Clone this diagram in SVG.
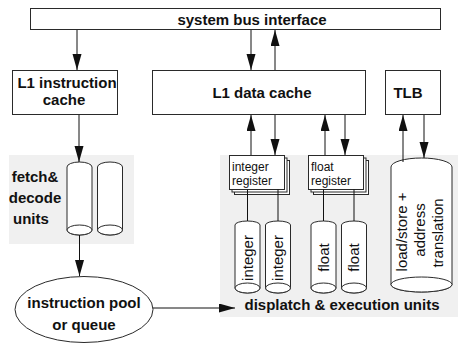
<svg xmlns="http://www.w3.org/2000/svg" width="458" height="344" viewBox="0 0 458 344">
  <defs>
    <style>
      .box { fill: #ffffff; stroke: #2a2a2a; stroke-width: 1; }
      .area { fill: #f0f0f0; stroke: none; }
      .cyl { fill: #ffffff; stroke: #2a2a2a; stroke-width: 1; }
      .wire { fill: none; stroke: #111111; stroke-width: 1; }
      .arrow { fill: none; stroke: #111111; stroke-width: 1; marker-end: url(#head); }
      .bold { font-family: "Liberation Sans", Arial, Helvetica, sans-serif; font-weight: bold; font-size: 15px; fill: #111111; }
      .reg { font-family: "Liberation Sans", Arial, Helvetica, sans-serif; font-size: 12px; fill: #111111; }
      .unit { font-family: "Liberation Sans", Arial, Helvetica, sans-serif; font-size: 15px; fill: #111111; }
    </style>
    <marker id="head" markerUnits="userSpaceOnUse" markerWidth="16" markerHeight="10" refX="16" refY="4.5" orient="auto">
      <path d="M0,0 L16,4.5 L0,9 z" fill="#111111"/>
    </marker>
  </defs>

  <rect width="458" height="344" fill="#ffffff"/>

  <!-- shaded unit areas -->
  <g id="fetch-area">
    <rect class="area" x="9" y="155" width="125" height="89"/>
  </g>
  <g id="exec-area">
    <rect class="area" x="220" y="155" width="238" height="162"/>
  </g>

  <!-- system bus -->
  <g id="system-bus">
    <rect class="box" x="30.5" y="8.5" width="410" height="21"/>
    <text class="bold" x="252" y="25" text-anchor="middle" font-size="14.3">system bus interface</text>
  </g>

  <!-- L1 instruction cache -->
  <g id="l1-instruction-cache">
    <rect class="box" x="12.5" y="70.5" width="105" height="44"/>
    <text class="bold" x="67" y="88" text-anchor="middle">L1 instruction</text>
    <text class="bold" x="64" y="105" text-anchor="middle">cache</text>
  </g>

  <!-- L1 data cache -->
  <g id="l1-data-cache">
    <rect class="box" x="152.5" y="70.5" width="213" height="44"/>
    <text class="bold" x="262" y="97.5" text-anchor="middle">L1 data cache</text>
  </g>

  <!-- TLB -->
  <g id="tlb">
    <rect class="box" x="385.5" y="70.5" width="55" height="44"/>
    <text class="bold" x="408" y="97.5" text-anchor="middle">TLB</text>
  </g>

  <!-- fetch & decode units -->
  <g id="fetch-decode">
    <text class="bold" x="35" y="182" text-anchor="middle">fetch&amp;</text>
    <text class="bold" x="35" y="203" text-anchor="middle">decode</text>
    <text class="bold" x="13" y="224">units</text>
    <path class="cyl" d="M67,167 A12.5,5 0 0 1 92,167 L92,230 A12.5,5 0 0 1 67,230 Z"/>
    <ellipse class="cyl" cx="79.5" cy="230" rx="12.5" ry="5"/>
    <path class="cyl" d="M97.5,167 A12.5,5 0 0 1 122.5,167 L122.5,230 A12.5,5 0 0 1 97.5,230 Z"/>
    <ellipse class="cyl" cx="110" cy="230" rx="12.5" ry="5"/>
  </g>

  <!-- instruction pool -->
  <g id="instruction-pool">
    <ellipse class="box" cx="84" cy="309.5" rx="69" ry="33"/>
    <text class="bold" x="84" y="308" text-anchor="middle">instruction pool</text>
    <text class="bold" x="84" y="330" text-anchor="middle">or queue</text>
  </g>

  <!-- integer register file -->
  <g id="integer-register">
    <rect class="box" x="234.5" y="160.5" width="55" height="34"/>
    <rect class="box" x="232" y="158" width="55" height="34"/>
    <rect class="box" x="229.5" y="155.5" width="55" height="34"/>
    <text class="reg" x="232" y="171">integer</text>
    <text class="reg" x="232" y="185">register</text>
  </g>

  <!-- float register file -->
  <g id="float-register">
    <rect class="box" x="313.5" y="160.5" width="55" height="34"/>
    <rect class="box" x="311" y="158" width="55" height="34"/>
    <rect class="box" x="308.5" y="155.5" width="55" height="34"/>
    <text class="reg" x="311" y="171">float</text>
    <text class="reg" x="311" y="185">register</text>
  </g>

  <!-- execution units -->
  <g id="integer-unit-1">
    <path class="cyl" d="M235,225 A12.5,4 0 0 1 260,225 L260,288 A12.5,5 0 0 1 235,288 Z"/>
    <ellipse class="cyl" cx="247.5" cy="288" rx="12.5" ry="5"/>
    <text class="unit" transform="translate(252.5,258) rotate(-90)" text-anchor="middle">integer</text>
  </g>
  <g id="integer-unit-2">
    <path class="cyl" d="M265.5,225 A12.5,4 0 0 1 290.5,225 L290.5,288 A12.5,5 0 0 1 265.5,288 Z"/>
    <ellipse class="cyl" cx="278" cy="288" rx="12.5" ry="5"/>
    <text class="unit" transform="translate(283,258) rotate(-90)" text-anchor="middle">integer</text>
  </g>
  <g id="float-unit-1">
    <path class="cyl" d="M311,225 A12.5,4 0 0 1 336,225 L336,288 A12.5,5 0 0 1 311,288 Z"/>
    <ellipse class="cyl" cx="323.5" cy="288" rx="12.5" ry="5"/>
    <text class="unit" transform="translate(328.5,257.5) rotate(-90)" text-anchor="middle">float</text>
  </g>
  <g id="float-unit-2">
    <path class="cyl" d="M341.5,225 A12.5,4 0 0 1 366.5,225 L366.5,288 A12.5,5 0 0 1 341.5,288 Z"/>
    <ellipse class="cyl" cx="354" cy="288" rx="12.5" ry="5"/>
    <text class="unit" transform="translate(359,257.5) rotate(-90)" text-anchor="middle">float</text>
  </g>

  <!-- load/store unit -->
  <g id="load-store">
    <path class="cyl" d="M391,167 A30.5,9 0 0 1 452,167 L452,284.5 A30.5,7.5 0 0 1 391,284.5 Z"/>
    <ellipse class="cyl" cx="421.5" cy="284.5" rx="30.5" ry="7.5"/>
    <text class="unit" transform="translate(407,232) rotate(-90)" text-anchor="middle">load/store +</text>
    <text class="unit" transform="translate(425,230) rotate(-90)" text-anchor="middle">address</text>
    <text class="unit" transform="translate(443,233) rotate(-90)" text-anchor="middle">translation</text>
  </g>

  <g id="exec-label">
    <text class="bold" x="342" y="310" text-anchor="middle">displatch &amp; execution units</text>
  </g>

  <!-- connectors -->
  <g id="connectors">
    <line class="arrow" x1="77" y1="30" x2="77" y2="70"/>
    <line class="arrow" x1="251" y1="30" x2="251" y2="70"/>
    <line class="arrow" x1="275" y1="70" x2="275" y2="30"/>
    <line class="arrow" x1="79" y1="115" x2="79" y2="162"/>
    <line class="arrow" x1="251" y1="155" x2="251" y2="115"/>
    <line class="arrow" x1="275" y1="115" x2="275" y2="155"/>
    <line class="arrow" x1="325" y1="155" x2="325" y2="115"/>
    <line class="arrow" x1="345" y1="115" x2="345" y2="155"/>
    <line class="arrow" x1="403" y1="162" x2="403" y2="115"/>
    <line class="arrow" x1="424" y1="115" x2="424" y2="158"/>
    <line class="arrow" x1="79.5" y1="235" x2="79.5" y2="276"/>
    <line class="arrow" x1="153" y1="308" x2="235" y2="308"/>
    <line class="wire" x1="247.5" y1="189.5" x2="247.5" y2="221"/>
    <line class="wire" x1="278" y1="189.5" x2="278" y2="221"/>
    <line class="wire" x1="323.5" y1="189.5" x2="323.5" y2="221"/>
    <line class="wire" x1="354" y1="189.5" x2="354" y2="221"/>
  </g>
</svg>
